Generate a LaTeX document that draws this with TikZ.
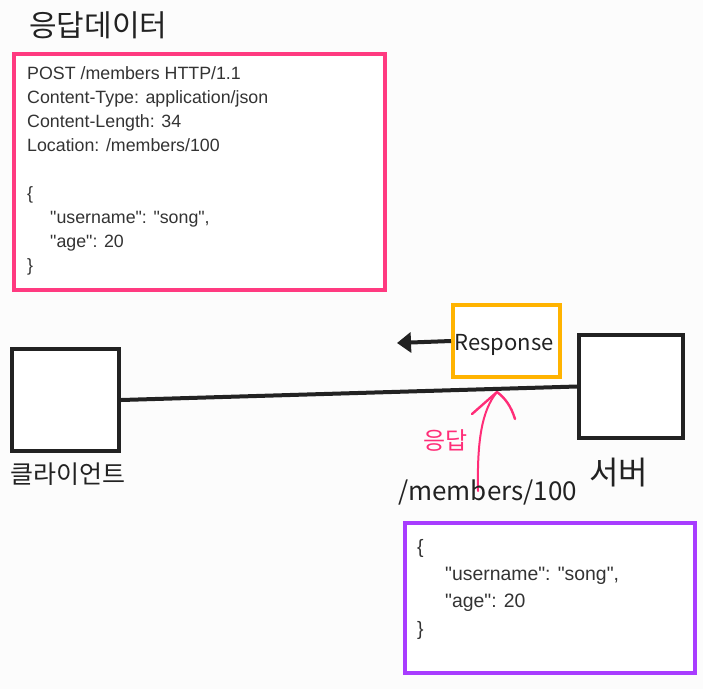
\documentclass[tikz,border=0pt]{standalone}
\usepackage{fontspec}
\setmainfont{Liberation Sans}
\newfontfamily\hand{Noto Sans CJK KR}
\usetikzlibrary{arrows.meta}
\newcommand\dq{\textquotedbl}
\definecolor{bg}{HTML}{FCFCFC}
\definecolor{ink}{HTML}{222222}
\definecolor{txt}{HTML}{333333}
\definecolor{hpink}{HTML}{FF3A80}
\definecolor{apink}{HTML}{FF2D78}
\definecolor{horange}{HTML}{FFB300}
\definecolor{hpurple}{HTML}{A83CFF}
\tikzset{
  box/.style={draw=#1, line width=4pt, fill=white, inner sep=0pt},
  code/.style={anchor=north west, inner sep=0pt, align=left, text=txt},
  handtxt/.style={inner sep=0pt, text=ink, font=\hand\fontsize{#1}{#1}\selectfont},
}
\begin{document}
\begin{tikzpicture}[x=1pt,y=-1pt]
\fill[bg] (0,0) rectangle (703,689);
\useasboundingbox (0,0) rectangle (703,689);
% title
\node[handtxt=30, anchor=west] (title) at (29,25) {응답데이터};
% header box
\node[box=hpink, minimum width=371pt, minimum height=236pt, anchor=north west] (hdr) at (12,52) {};
\node[code, font=\fontsize{17.8}{24.1}\selectfont] (hdrtext) at (27,66) {POST /members HTTP/1.1\\
Content-Type: application/json\\
Content-Length: 34\\
Location: /members/100\\[24.1pt]
\{\\
\hspace*{23pt}\dq username\dq: \dq song\dq,\\
\hspace*{23pt}\dq age\dq: 20\\
\}};
% client and server
\node[box=ink, minimum width=107pt, minimum height=102pt] (client) at (65.5,400) {};
\node[handtxt=25, anchor=north west] (clientlbl) at (10,463) {클라이언트};
\node[box=ink, minimum width=104pt, minimum height=103pt] (server) at (631,386.5) {};
\node[handtxt=32, anchor=north west] (serverlbl) at (589,458) {서버};
\draw[ink, line width=4pt] (client.east) -- (server.west);
% response
\node[box=horange, minimum width=107pt, minimum height=72pt] (resp) at (506.5,341) {};
\node[handtxt=22, anchor=center] (resptext) at (504,345) {Response};
\coordinate (arrowend) at (397,343);
\draw[ink, line width=4pt, -{Triangle[length=14pt,width=20pt]}] (resp.west) -- (arrowend);
% pink arrow
\coordinate (pinkstart) at (478,491);
\coordinate (pinkend) at (497,392);
\coordinate (barbL) at (472,414);
\coordinate (barbR) at (515,419);
\draw[apink, line width=2pt, line cap=round]
  (pinkstart) .. controls (477,440) and (482,410) .. (pinkend);
\draw[apink, line width=2.4pt, line cap=round, line join=round]
  (barbL) -- (pinkend) .. controls (505,398) and (511,406) .. (barbR);
\node[handtxt=24, text=apink, anchor=north west] (resplbl) at (423,429) {응답};
\node[handtxt=26, anchor=north west] (path) at (398,480) {/members/100};
% body box
\node[box=hpurple, minimum width=290pt, minimum height=150pt, anchor=north west] (body) at (403,521) {};
\node[code, font=\fontsize{19.4}{27.3}\selectfont] (bodytext) at (417,539) {\{\\
\hspace*{28pt}\dq username\dq: \dq song\dq,\\
\hspace*{28pt}\dq age\dq: 20\\
\}};
\end{tikzpicture}
\end{document}
